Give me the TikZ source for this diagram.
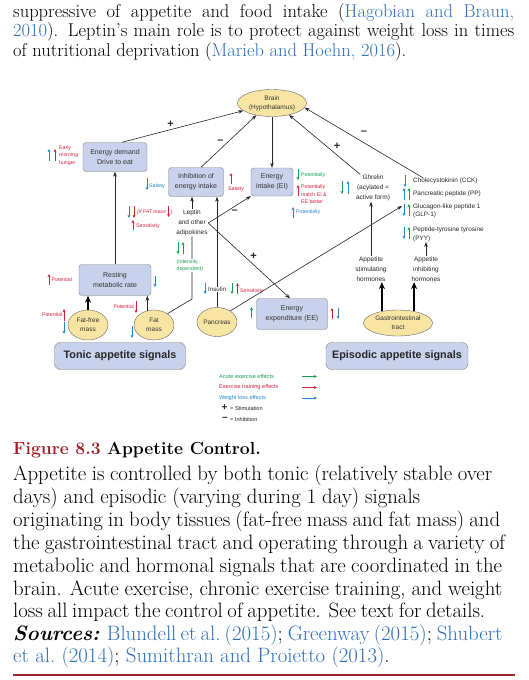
\documentclass[tikz,border=0pt]{standalone}
\usepackage{fontspec}
\setsansfont{Liberation Sans}
\usepackage{xcolor}
\usetikzlibrary{shapes,arrows,arrows.meta}

\definecolor{acute}{RGB}{24,158,82}
\definecolor{training}{RGB}{214,32,62}
\definecolor{wloss}{RGB}{32,138,204}
\definecolor{boxfill}{RGB}{201,210,236}
\definecolor{organfill}{RGB}{249,229,163}
\definecolor{citeblue}{RGB}{48,112,184}
\definecolor{figred}{RGB}{158,32,40}

\tikzset{
  box/.style={draw=black!50, fill=boxfill, rounded corners=3pt, align=center, inner sep=1pt, text=black!80, font=\sffamily\fontsize{7}{10}\selectfont},
  organ/.style={ellipse, draw=black!60, fill=organfill, align=center, inner sep=0pt, text=black!80, font=\sffamily\fontsize{6.5}{9}\selectfont},
  sigbox/.style={draw=black!50, fill=boxfill, rounded corners=6pt, inner sep=0pt, text=black!85, font=\sffamily\bfseries\fontsize{10.8}{13}\selectfont},
  lbl/.style={align=center, inner sep=0.5pt, text=black!85, font=\sffamily\fontsize{6.5}{10}\selectfont},
  hormone/.style={anchor=west, align=left, inner sep=0pt, text=black!85, font=\sffamily\fontsize{6.4}{8.5}\selectfont},
  note/.style={anchor=west, align=left, inner sep=0pt, font=\sffamily\fontsize{5.2}{7.5}\selectfont},
  legend/.style={anchor=west, inner sep=0pt, font=\sffamily\fontsize{5.6}{7}\selectfont},
  conn/.style={->, line width=0.6pt, draw=black!85},
  bigconn/.style={-{Stealth[length=7pt,width=6pt]}, line width=2pt, draw=black},
  eff/.style={-{Stealth[length=3.2pt,width=3pt]}, line width=0.85pt},
  sign/.style={inner sep=1pt, text=black!85, font=\sffamily\bfseries\fontsize{11}{11}\selectfont},
  body/.style={anchor=base west, inner sep=0pt, font=\fontsize{18.5}{20}\selectfont},
  capt/.style={anchor=base west, inner sep=0pt, font=\fontsize{20.8}{23}\selectfont}
}

\begin{document}
\begin{tikzpicture}[x=1pt, y=-1pt, >={Stealth[length=5pt,width=3.6pt]}]
\useasboundingbox[fill=white] (0,0) rectangle (529,680);

% running text
\node[body] (top1) at (13,17) {\makebox[501pt][s]{suppressive of appetite and food intake (\textcolor{citeblue}{Hagobian and Braun,}}};
\node[body] (top2) at (13,36.5) {\makebox[501pt][s]{\textcolor{citeblue}{2010}). Leptin's main role is to protect against weight loss in times}};
\node[body] (top3) at (13,56) {of nutritional deprivation (\textcolor{citeblue}{Marieb and Hoehn, 2016}).};

% boxes and organs
\node[organ, minimum width=69pt, minimum height=27pt] (brain) at (272,103) {Brain\\(Hypothalamus)};
\node[box, minimum width=64pt, minimum height=29pt] (demand) at (115,157) {Energy demand\\Drive to eat};
\node[box, minimum width=55pt, minimum height=29pt] (inhib) at (196,182) {Inhibition of\\energy intake};
\node[box, minimum width=42pt, minimum height=28pt] (ei) at (272,182) {Energy\\intake (EI)};
\node[box, minimum width=72pt, minimum height=31pt] (rmr) at (115,280) {Resting\\metabolic rate};
\node[box, minimum width=71pt, minimum height=31pt] (ee) at (292,314) {Energy\\expenditure (EE)};
\node[organ, minimum width=40pt, minimum height=30pt] (ffm) at (88,325) {Fat-free\\mass};
\node[organ, minimum width=40pt, minimum height=30pt] (fm) at (154,325) {Fat\\mass};
\node[organ, minimum width=40pt, minimum height=29pt] (pancreas) at (217,322) {Pancreas};
\node[organ, minimum width=69pt, minimum height=26pt] (gi) at (398,323) {Gastrointestinal\\tract};
\node[sigbox, minimum width=131pt, minimum height=27pt] (tonic) at (120,356) {Tonic appetite signals};
\node[sigbox, minimum width=142pt, minimum height=27pt] (episodic) at (397,356) {Episodic appetite signals};

% hormones and signals
\node[lbl] (leptin) at (192,223) {Leptin\\and other\\adipokines};
\node[lbl] (ghrelin) at (373,188) {Ghrelin\\(acylated =\\active form)};
\node[lbl] (stim) at (371,269) {Appetite\\stimulating\\hormones};
\node[lbl] (appinh) at (426,269) {Appetite\\inhibiting\\hormones};
\node[hormone] (cck) at (413,181) {Cholecystokinin (CCK)};
\node[hormone] (pp) at (413,194) {Pancreatic peptide (PP)};
\node[hormone] (glp) at (413,211) {Glucagon-like peptide 1\\(GLP-1)};
\node[hormone] (pyy) at (413,234.5) {Peptide-tyrosine tyrosine\\(PYY)};
\coordinate (glptip) at (402,206);
\coordinate (fmbend) at (192,299);

% connectors
\draw[conn] ([xshift=7pt]demand.north) -- (brain.195) node[sign, pos=0.4, above=1pt] {+};
\draw[conn] ([xshift=5pt]inhib.north) -- (brain.218) node[sign, pos=0.5, left=4pt] {\textendash};
\draw[conn] (brain.south) -- (ei.north);
\draw[conn] ([xshift=-13pt]ghrelin.north) -- (brain.325) node[sign, pos=0.47, right=6pt] {+};
\draw[conn] ([xshift=10pt]cck.north west) -- (brain.352) node[sign, pos=0.5, above=7pt] {\textendash};
\draw[conn] (rmr.north) -- (demand.south);
\draw[conn] (leptin.north) -- (leptin.north |- inhib.south);
\draw[conn] (pancreas.north) -- (pancreas.north |- inhib.south);
\draw[conn] (leptin.east) -- (ei.south west) node[sign, pos=0.62, below=2pt] {\textendash};
\draw[conn] (leptin.east) -- ([xshift=-2pt]ee.north) node[sign, pos=0.5, above right=0pt] {+};
\draw[line width=0.6pt, black!85] (fm.40) -- (fmbend) -- (leptin.south);
\draw[conn] (pancreas.40) -- (glptip);
\draw[bigconn] (ffm.north) -- (ffm.north |- rmr.south);
\draw[conn] (fm.115) -- (fm.115 |- rmr.south);
\draw[bigconn] (gi.144) -- (gi.144 |- stim.south);
\draw[bigconn] (gi.36) -- (gi.36 |- appinh.south);
\draw[conn] (stim.north) -- (stim.north |- ghrelin.south);
\draw[conn] (appinh.north) -- (appinh.north |- pyy.south);

% effect marks
\draw[eff, wloss] (49,161) -- (49,149);
\draw[eff, training] (55,161) -- (55,149);
\node[note, training] (hunger) at (59,155.5) {Early\\morning\\hunger};
\draw[eff, wloss] (147,178) -- (147,190);
\node[note, wloss] (satl) at (149,186) {Satiety};
\draw[eff, training] (231,184) -- (231,173);
\node[note, training] (satr) at (228,189) {Satiety};
\draw[eff, acute] (298,169) -- (298,180);
\node[note, acute] (eipot1) at (301,175) {Potentially};
\draw[eff, training] (298,196) -- (298,185);
\node[note, training] (eipot2) at (301,194.5) {Potentially\\match EI \&\\EE better};
\draw[eff, wloss] (293,218) -- (293,207);
\node[note, wloss] (eipot3) at (296,212.5) {Potentially};
\draw[eff, acute] (342,181) -- (342,194);
\draw[eff, wloss] (348,194) -- (348,181);
\draw[eff, wloss] (405,175) -- (405,187);
\draw[eff, wloss] (404,200) -- (404,188);
\draw[eff, acute] (409,200) -- (409,188);
\draw[eff, wloss] (404,204) -- (404,216);
\draw[eff, acute] (409,216) -- (409,204);
\draw[eff, wloss] (404,227) -- (404,239);
\draw[eff, acute] (409,239) -- (409,227);
\draw[eff, wloss] (129,206) -- (129,218);
\draw[eff, training] (134,206) -- (134,218);
\node[note, training, font=\sffamily\itshape\fontsize{5.2}{7.5}\selectfont] (ifmass) at (137,212) {(if FAT mass};
\draw[eff, training] ([xshift=2.5pt]ifmass.east) ++(0,-6) -- ++(0,11);
\node[note, training, font=\sffamily\itshape\fontsize{5.2}{7.5}\selectfont] (ifclose) at ([xshift=4.5pt]ifmass.east) {)};
\draw[eff, training] (133,230) -- (133,220);
\node[note, training] (lepsens) at (136,226) {Sensitivity};
\draw[eff, acute] (178,242) -- (178,254);
\draw[eff, acute] (183,254) -- (183,242);
\node[note, acute, fill=white, inner sep=0.5pt] (intens) at (176,265.5) {(Intensity\\dependent)};
\draw[eff, training] (49,285) -- (49,274);
\node[note, training] (rmrpot) at (51.5,279.5) {Potential};
\draw[eff, wloss] (155,276) -- (155,287);
\node[note, training, anchor=east] (ffmpot) at (62.5,315) {Potential};
\draw[eff, training] (64,321) -- (64,309);
\draw[eff, wloss] (64,322) -- (64,334);
\node[note, training, anchor=east] (fmpot) at (134,307) {Potential};
\draw[eff, training] (136,301) -- (136,313);
\draw[eff, wloss] (132,326) -- (132,338);
\draw[eff, wloss] (205,283) -- (205,294);
\node[note, fill=white, inner sep=0.5pt, text=black!85, font=\sffamily\fontsize{6.2}{7}\selectfont] (insulin) at (207.5,289.5) {Insulin};
\draw[eff, acute] (232,283) -- (232,294);
\draw[eff, training] (237.5,294) -- (237.5,283);
\node[note, training] (pansens) at (240,291.5) {Sensitivity};
\draw[eff, acute] (251.5,318) -- (251.5,307);
\draw[eff, training] (332,319) -- (332,308);
\draw[eff, wloss] (338,308) -- (338,319);

% legend
\node[legend, acute] (legacute) at (219,376.5) {Acute exercise effects};
\draw[eff, acute] (302,376.5) -- (317,376.5);
\node[legend, training] (legtrain) at (219,387.5) {Exercise training effects};
\draw[eff, training] (302,387.5) -- (317,387.5);
\node[legend, wloss] (legloss) at (219,398) {Weight loss effects};
\draw[eff, wloss] (302,398) -- (317,398);
\node[sign, font=\sffamily\bfseries\fontsize{10}{10}\selectfont] (legplus) at (224.5,408) {+};
\node[legend, text=black!85] (legstim) at (230,408.5) {= Stimulation};
\node[sign, font=\sffamily\bfseries\fontsize{10}{10}\selectfont] (legminus) at (225,419) {\textendash};
\node[legend, text=black!85] (leginh) at (230,419.5) {= Inhibition};

% caption
\node[capt, font=\bfseries\fontsize{17.5}{23}\selectfont] (figtitle) at (13,454) {\textcolor{figred}{Figure 8.3} Appetite Control.};
\node[capt] (cap1) at (13,480) {\makebox[479pt][s]{Appetite is controlled by both tonic (relatively stable over}};
\node[capt] (cap2) at (13,503) {\makebox[407pt][s]{days) and episodic (varying during 1 day) signals}};
\node[capt] (cap3) at (13,526) {\makebox[487pt][s]{originating in body tissues (fat-free mass and fat mass) and}};
\node[capt] (cap4) at (13,549) {\makebox[492pt][s]{the gastrointestinal tract and operating through a variety of}};
\node[capt] (cap5) at (13,572) {\makebox[489pt][s]{metabolic and hormonal signals that are coordinated in the}};
\node[capt] (cap6) at (13,595) {\makebox[489pt][s]{brain. Acute exercise, chronic exercise training, and weight}};
\node[capt] (cap7) at (13,617) {\makebox[472pt][s]{loss all impact the control of appetite. See text for details.}};
\node[capt] (cap8) at (13,640) {\makebox[484pt][s]{\textbf{\textit{Sources:}} \textcolor{citeblue}{Blundell et al.\ (2015)}; \textcolor{citeblue}{Greenway (2015)}; \textcolor{citeblue}{Shubert}}};
\node[capt] (cap9) at (13,662) {\textcolor{citeblue}{et al.\ (2014)}; \textcolor{citeblue}{Sumithran and Proietto (2013)}.};
\draw[figred, line width=2pt] (13,675) -- (515,675);
\end{tikzpicture}
\end{document}
